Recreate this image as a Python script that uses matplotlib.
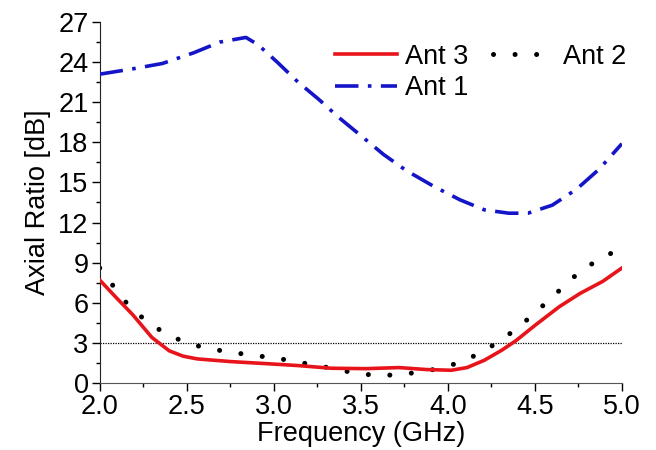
import matplotlib.pyplot as plt
from matplotlib.ticker import MultipleLocator

plt.rcParams["font.family"] = ["Liberation Sans", "DejaVu Sans"]

# Ant 1 (blue dash-dot)
f_ant1 = [2.0, 2.19, 2.36, 2.54, 2.69, 2.84, 2.91, 3.02, 3.14, 3.26, 3.37, 3.51, 3.63, 3.76,
          3.92, 4.07, 4.21, 4.35, 4.46, 4.6, 4.74, 4.87, 5.0]
ar_ant1 = [23.1, 23.5, 23.9, 24.7, 25.5, 25.85, 25.3, 24.0, 22.5, 21.2, 19.9, 18.4, 17.1, 15.9,
           14.7, 13.7, 12.95, 12.7, 12.7, 13.3, 14.5, 16.0, 17.9]

# Ant 2 (black dotted)
f_ant2 = [2.0, 2.05, 2.1, 2.18, 2.28, 2.39, 2.51, 2.63, 2.76, 2.88, 3.0, 3.12, 3.25, 3.37, 3.49,
          3.62, 3.74, 3.86, 3.99, 4.1, 4.21, 4.31, 4.41, 4.5, 4.6, 4.69, 4.79, 4.9, 5.0]
ar_ant2 = [8.6, 7.8, 6.8, 5.6, 4.5, 3.6, 2.95, 2.55, 2.3, 2.05, 1.9, 1.6, 1.3, 1.0, 0.68,
           0.55, 0.65, 0.85, 1.2, 1.7, 2.4, 3.25, 4.2, 5.25, 6.4, 7.55, 8.65, 9.4, 10.2]

# Ant 3 (red solid)
f_ant3 = [2.0, 2.09, 2.19, 2.3, 2.4, 2.48, 2.56, 2.75, 2.95, 3.14, 3.33, 3.53, 3.72, 3.88,
          4.02, 4.11, 4.21, 4.31, 4.39, 4.5, 4.64, 4.76, 4.89, 5.0]
ar_ant3 = [7.7, 6.45, 5.1, 3.4, 2.4, 2.0, 1.8, 1.6, 1.45, 1.3, 1.1, 1.07, 1.15, 1.0,
           0.95, 1.15, 1.7, 2.45, 3.15, 4.3, 5.7, 6.7, 7.6, 8.6]

fig = plt.figure(figsize=(6.56, 4.5), dpi=100)
ax = fig.add_axes([0.152, 0.149, 0.796, 0.802])

ax.axhline(3, color="black", lw=0.9, ls=(0, (1, 1)), zorder=1)

l3, = ax.plot(f_ant3, ar_ant3, color="#e8141b", lw=2.6, label="Ant 3", zorder=3)
l1, = ax.plot(f_ant1, ar_ant1, color="#1414c8", lw=2.6, ls=(0, (6.5, 2.6, 1, 2.6)),
              label="Ant 1", zorder=3)
l2, = ax.plot(f_ant2, ar_ant2, color="black", lw=3.6, ls=(0, (0.01, 4.3)),
              dash_capstyle="round", label="Ant 2", zorder=2)

ax.set_xlim(2.0, 5.0)
ax.set_ylim(0, 27)
ax.xaxis.set_major_locator(MultipleLocator(0.5))
ax.xaxis.set_minor_locator(MultipleLocator(0.25))
ax.yaxis.set_major_locator(MultipleLocator(3))
ax.yaxis.set_minor_locator(MultipleLocator(1.5))
ax.xaxis.set_major_formatter(plt.FormatStrFormatter("%.1f"))

for s in ["top", "right"]:
    ax.spines[s].set_visible(False)
ax.spines["left"].set_color("#222222")
ax.spines["bottom"].set_color("#555555")
ax.tick_params(which="major", direction="out", length=6, width=1, labelsize=19.5, pad=2)
ax.tick_params(which="minor", direction="out", length=3, width=1)

ax.set_xlabel("Frequency (GHz)", fontsize=19.5, labelpad=1)
ax.set_ylabel("Axial Ratio [dB]", fontsize=19.5, labelpad=5)

ax.legend(handles=[l3, l1, l2], ncol=2, frameon=False, fontsize=19.5,
          loc="upper left", bbox_to_anchor=(0.45, 0.94), handlelength=2.3,
          handletextpad=0.3, columnspacing=0.9, labelspacing=0.2, borderpad=0,
          borderaxespad=0)

fig.savefig("out.png", dpi=100)
